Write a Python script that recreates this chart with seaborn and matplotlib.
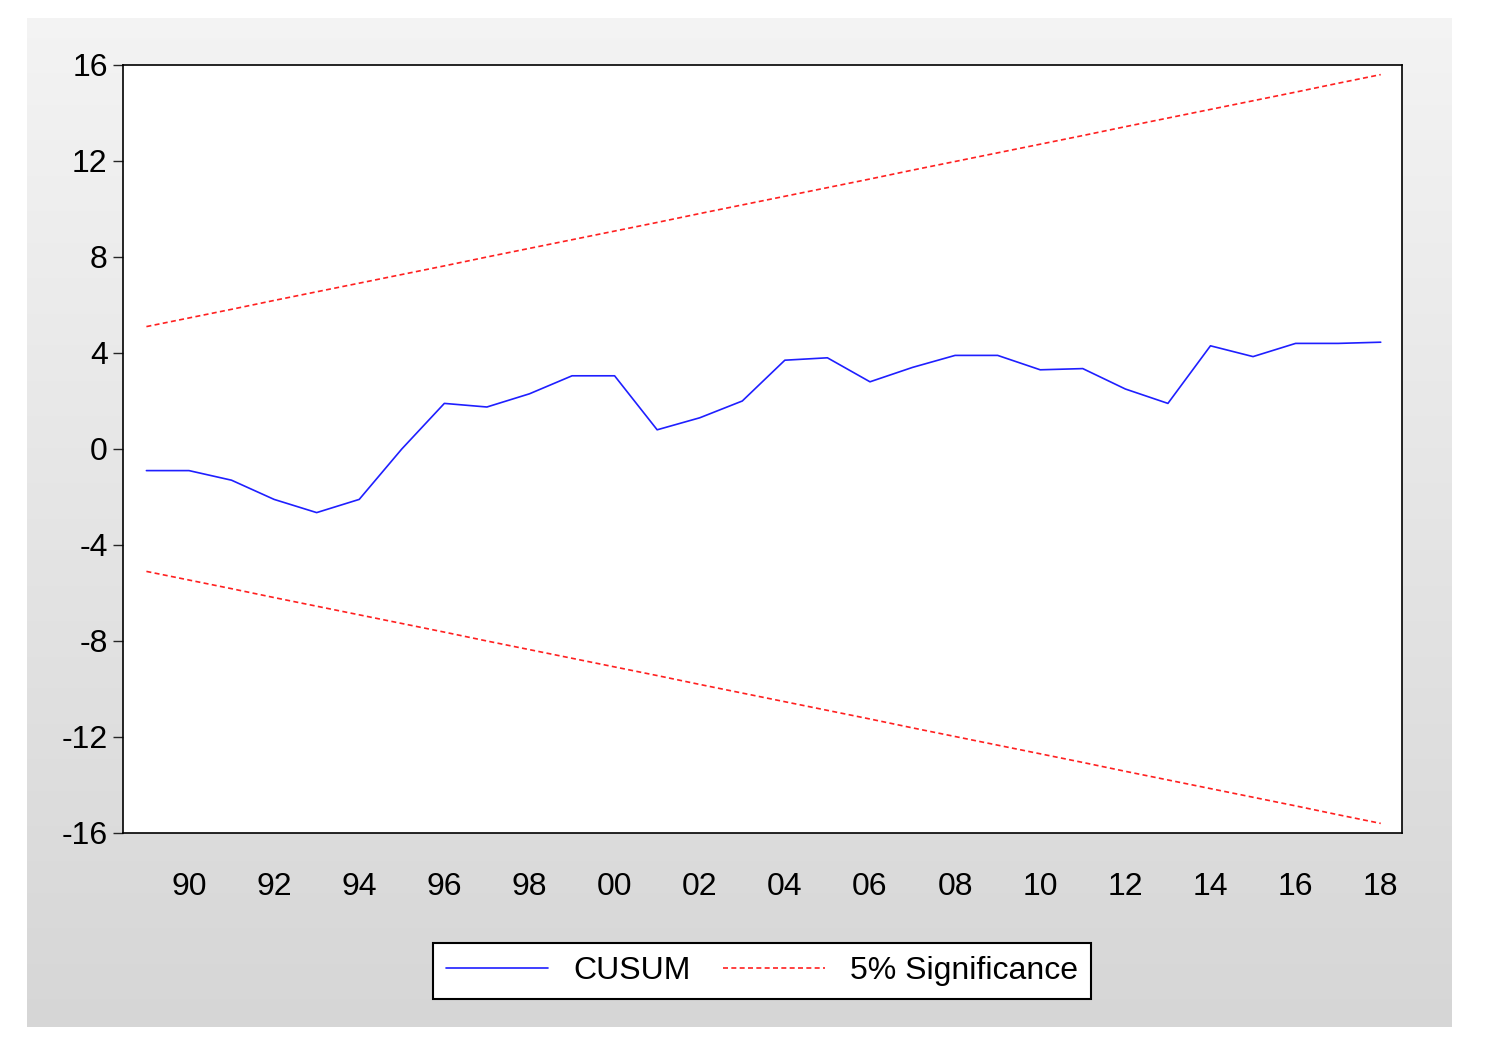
import matplotlib
matplotlib.use("Agg")
import matplotlib.pyplot as plt
import numpy as np
import pandas as pd
import seaborn as sns

years = list(range(1989, 2019))
cusum = [-0.9, -0.9, -1.3, -2.1, -2.65, -2.1, 0.0, 1.9, 1.75, 2.3,
         3.05, 3.05, 0.8, 1.3, 2.0, 3.7, 3.8, 2.8, 3.4, 3.9,
         3.9, 3.3, 3.35, 2.5, 1.9, 4.3, 3.85, 4.4, 4.4, 4.45]
upper = [5.10, 5.46, 5.82, 6.19, 6.55, 6.91, 7.27, 7.63, 8.00, 8.36,
         8.72, 9.08, 9.44, 9.81, 10.17, 10.53, 10.89, 11.25, 11.62, 11.98,
         12.34, 12.70, 13.06, 13.43, 13.79, 14.15, 14.51, 14.87, 15.24, 15.60]
lower = [-v for v in upper]
ytick_vals = [-16, -12, -8, -4, 0, 4, 8, 12, 16]
xlabel_years = list(range(1990, 2019, 2))

df = pd.DataFrame({"year": years, "CUSUM": cusum, "upper": upper, "lower": lower})

sns.set_style("white")
plt.rcParams["font.family"] = ["Liberation Sans", "DejaVu Sans"]
plt.rcParams["text.color"] = "black"

W, H = 1490, 1055
fig = plt.figure(figsize=(W / 100, H / 100), dpi=100, facecolor="white")

# gray gradient panel
bg = fig.add_axes([27 / W, 1 - 1027 / H, (1452 - 27) / W, (1027 - 18) / H])
grad = np.linspace(0.955, 0.84, 256).reshape(-1, 1)
bg.imshow(np.dstack([grad, grad, grad]), aspect="auto", extent=[0, 1, 0, 1])
bg.axis("off")

ax = fig.add_axes([123 / W, 1 - 833 / H, (1402 - 123) / W, (833 - 65) / H])
ax.set_facecolor("white")
sns.lineplot(data=df, x="year", y="CUSUM", color="#1f1fff", linewidth=1.2, ax=ax, label="CUSUM")
sns.lineplot(data=df, x="year", y="upper", color="#ff2020", linewidth=1.2, linestyle=(0, (3, 2)),
             ax=ax, label="5% Significance")
sns.lineplot(data=df, x="year", y="lower", color="#ff2020", linewidth=1.2, linestyle=(0, (3, 2)),
             ax=ax, label="_nolegend_")

ax.set_xlim(1988.45, 2018.5)
ax.set_ylim(-16, 16)
ax.set_yticks(ytick_vals)
ax.set_yticklabels([str(v) for v in ytick_vals], fontsize=23, color="black")
ax.set_xticks(np.arange(1988.5, 2019, 1))
ax.set_xticklabels([])
ax.set_xticks(xlabel_years, minor=True)
ax.set_xticklabels([f"{y % 100:02d}" for y in xlabel_years], minor=True, fontsize=23, color="black")
ax.tick_params(axis="x", which="major", direction="out", length=16, width=1, color="#555555")
ax.tick_params(axis="x", which="minor", length=0, pad=28)
ax.tick_params(axis="y", direction="out", length=7, width=1, left=True, pad=4)
ax.set_xlabel("")
ax.set_ylabel("")
for s in ax.spines.values():
    s.set_color("black")
    s.set_linewidth(1.2)

leg = ax.legend(loc="center", bbox_to_anchor=(762 / W, 1 - 971 / H), bbox_transform=fig.transFigure,
                ncol=2, fontsize=23, frameon=True, fancybox=False, handlelength=3.2,
                columnspacing=1.0, borderpad=0.4)
leg.get_frame().set_edgecolor("black")
leg.get_frame().set_facecolor("white")
leg.get_frame().set_alpha(1.0)
leg.get_frame().set_linewidth(1.5)

plt.savefig("out.png", dpi=100)
